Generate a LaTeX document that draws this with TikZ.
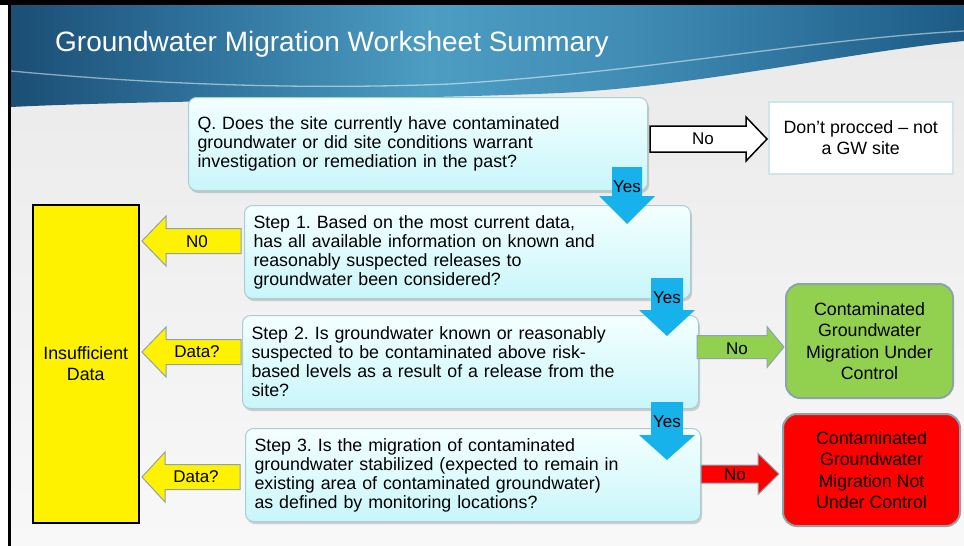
\documentclass[tikz,border=0pt]{standalone}
\usepackage{fontspec}
\setmainfont{Liberation Sans}
\usetikzlibrary{calc,shadows}
\frenchspacing
\definecolor{hA}{HTML}{1B4E74}
\definecolor{hB}{HTML}{2F729C}
\definecolor{hC}{HTML}{4D9DC3}
\definecolor{hD}{HTML}{3F8BB4}
\definecolor{hE}{HTML}{1C5B86}
\definecolor{bgtop}{HTML}{E9E9E9}
\definecolor{bgbot}{HTML}{F8F8F8}
\definecolor{boxtop}{HTML}{F4FFFF}
\definecolor{boxbot}{HTML}{C9F6FA}
\definecolor{boxline}{HTML}{A9CDD5}
\definecolor{skyblue}{HTML}{17B2EC}
\definecolor{arrline}{HTML}{8FA2AE}
\definecolor{okgreen}{HTML}{92D050}
\definecolor{endline}{HTML}{8CA3AB}
\pgfdeclarehorizontalshading{hdr}{100bp}{color(0bp)=(hA); color(25bp)=(hA); color(35bp)=(hB); color(47bp)=(hC); color(58bp)=(hD); color(75bp)=(hE); color(100bp)=(hE)}
\newcommand\myrarrow[6]{\path[#1] let \p1=(#2), \p2=(#3) in (\x1,\y1+#4) -- (\x2-#6,\y1+#4) -- (\x2-#6,\y1+#5) -- (\x2,\y1) -- (\x2-#6,\y1-#5) -- (\x2-#6,\y1-#4) -- (\x1,\y1-#4) -- cycle;}
\newcommand\mylarrow[6]{\path[#1] let \p1=(#2), \p2=(#3) in (\x1,\y1+#4) -- (\x2+#6,\y1+#4) -- (\x2+#6,\y1+#5) -- (\x2,\y1) -- (\x2+#6,\y1-#5) -- (\x2+#6,\y1-#4) -- (\x1,\y1-#4) -- cycle;}
\newcommand\mydarrow[6]{\path[#1] let \p1=(#2), \p2=(#3) in (\x1-#4,\y1) -- (\x1-#4,\y2+#6) -- (\x1-#5,\y2+#6) -- (\x1,\y2) -- (\x1+#5,\y2+#6) -- (\x1+#4,\y2+#6) -- (\x1+#4,\y1) -- cycle;}
\begin{document}
\begin{tikzpicture}[x=1pt,y=-1pt,
  boxfont/.style={font=\fontsize{17.8}{19}\selectfont},
  stepbox/.style={boxfont,anchor=north west,rectangle,rounded corners=8pt,draw=boxline,line width=1pt,
    top color=boxtop,bottom color=boxbot,align=left,inner xsep=9pt,inner ysep=0pt,
    drop shadow={shadow xshift=1.5pt,shadow yshift=-2.5pt,opacity=0.35,fill=gray}},
  endbox/.style={font=\fontsize{17.8}{21.3}\selectfont,anchor=north west,rectangle,align=center,inner sep=0pt},
  lbl/.style={font=\fontsize{17}{18}\selectfont,inner sep=0pt},
  yesarr/.style={fill=skyblue},
  dataarr/.style={fill=yellow,draw=arrline,line width=1pt},
  noarrW/.style={fill=white,draw=black,line width=1.5pt},
  noarrG/.style={fill=okgreen,draw=arrline,line width=1pt},
  noarrR/.style={fill=red,draw=arrline,line width=1pt}]
\useasboundingbox (0,0) rectangle (964,546);
\fill[white] (0,0) rectangle (964,546);
\shade[top color=bgtop,bottom color=bgbot] (11,5) rectangle (964,546);
% header band
\shade[shading=hdr] (11,5) -- (964,5) -- (964,41) .. controls (850,52) and (700,86) .. (560,93) .. controls (400,100) and (150,100) .. (11,107) -- cycle;
\draw[white,opacity=0.5,line width=1.3pt] (11,71) .. controls (150,84) and (300,90) .. (450,84) .. controls (650,72) and (800,40) .. (964,31);
\node[anchor=base west,text=white,font=\fontsize{28}{30}\selectfont,inner sep=0pt] (title) at (55,51) {Groundwater Migration Worksheet Summary};
\fill[black] (8,0) rectangle (11,546);
\fill[black] (0,0) rectangle (964,5);
% boxes
\node[stepbox,minimum width=459pt,minimum height=93pt,text width=441pt] (q) at (188,97)
 {Q. Does the site currently have contaminated\\groundwater or did site conditions warrant\\investigation or remediation in the past?};
\node[stepbox,minimum width=446pt,minimum height=93pt,text width=428pt] (s1) at (244,205)
 {Step 1. Based on the most current data,\\has all available information on known and\\reasonably suspected releases to\\groundwater been considered?};
\node[stepbox,minimum width=456pt,minimum height=93pt,text width=438pt] (s2) at (242,315)
 {Step 2. Is groundwater known or reasonably\\suspected to be contaminated above risk-\\based levels as a result of a release from the\\site?};
\node[stepbox,minimum width=455pt,minimum height=93pt,text width=437pt] (s3) at (245,428)
 {Step 3. Is the migration of contaminated\\groundwater stabilized (expected to remain in\\existing area of contaminated groundwater)\\as defined by monitoring locations?};
\node[endbox,minimum width=184pt,minimum height=72pt,fill=white,draw=boxtop!50!boxline,line width=1.5pt] (dont) at (768,101)
 {Don’t procced – not\\a GW site};
\node[endbox,minimum width=106pt,minimum height=318pt,fill=yellow,draw=black,line width=1.5pt] (insuf) at (32,204)
 {Insufficient\\Data};
\node[endbox,minimum width=167pt,minimum height=114pt,fill=okgreen,draw=endline,line width=2pt,rounded corners=14pt] (ok) at (785,283)
 {Contaminated\\Groundwater\\Migration Under\\Control};
\node[endbox,minimum width=177pt,minimum height=112pt,fill=red,draw=endline,line width=2pt,rounded corners=14pt] (notok) at (782,413)
 {Contaminated\\Groundwater\\Migration Not\\Under Control};
% connector end points
\coordinate (qNoA) at (650,139);  \coordinate (qNoB) at (767,139);
\coordinate (y1A) at (627,167);   \coordinate (y1B) at (627,224);
\coordinate (y2A) at (667,278);   \coordinate (y2B) at (667,336);
\coordinate (y3A) at (667,402);   \coordinate (y3B) at (667,460);
\coordinate (d1A) at (241,241);   \coordinate (d1B) at (142,241);
\coordinate (d2A) at (241,352);   \coordinate (d2B) at (142,352);
\coordinate (d3A) at (240,477);   \coordinate (d3B) at (142,477);
\coordinate (gA) at (697,347);    \coordinate (gB) at (784,347);
\coordinate (rA) at (701,474);    \coordinate (rB) at (779,474);
% arrows
\myrarrow{noarrW}{qNoA}{qNoB}{13pt}{22pt}{21pt}
\node[lbl] (lno1) at (703,139) {No};
\mydarrow{yesarr}{y1A}{y1B}{15pt}{28pt}{28pt}
\node[lbl] (lyes1) at (627,187) {Yes};
\mydarrow{yesarr}{y2A}{y2B}{16pt}{28pt}{26pt}
\node[lbl] (lyes2) at (667,298) {Yes};
\mydarrow{yesarr}{y3A}{y3B}{16pt}{28pt}{25pt}
\node[lbl] (lyes3) at (667,422) {Yes};
\mylarrow{dataarr}{d1A}{d1B}{12.5pt}{25pt}{24pt}
\node[lbl] (ln0) at (197,242) {N0};
\mylarrow{dataarr}{d2A}{d2B}{12.5pt}{25pt}{24pt}
\node[lbl] (ld2) at (197,352) {Data?};
\mylarrow{dataarr}{d3A}{d3B}{12.5pt}{25pt}{23pt}
\node[lbl] (ld3) at (196,477) {Data?};
\myrarrow{noarrG}{gA}{gB}{11.5pt}{20.5pt}{17pt}
\node[lbl] (lno2) at (737,349) {No};
\myrarrow{noarrR}{rA}{rB}{9pt}{20.5pt}{21pt}
\node[lbl] (lno3) at (735,475) {No};
\end{tikzpicture}
\end{document}
